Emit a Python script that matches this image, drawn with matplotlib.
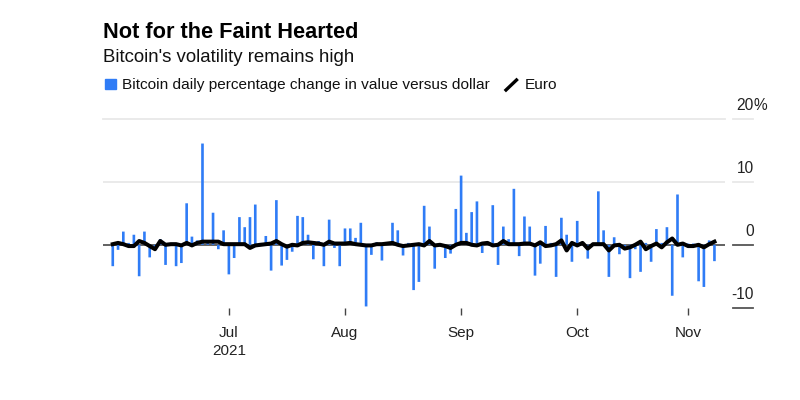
import numpy as np
import pandas as pd
import matplotlib
matplotlib.use('Agg')
import matplotlib.pyplot as plt
from matplotlib.patches import Rectangle
from matplotlib.lines import Line2D

plt.rcParams['font.family'] = ['Liberation Sans', 'DejaVu Sans']

# weekday observations, Jun 1 - Nov 8 2021
dates = pd.bdate_range('2021-06-01', '2021-11-08')

# Bitcoin daily % change vs dollar
bitcoin = [-3.4, -0.8, 2.1, 0.3, 1.6, -5.0, 2.1, -2.0, -0.3, 0.9,
           -3.2, 0.2, -3.4, -2.9, 6.6, 1.3, 0.7, 16.1, 0.7, 5.1,
           -0.7, 2.3, -4.7, -2.1, 4.4, 2.8, 4.4, 6.4, 0.3, 1.4,
           -4.1, 7.1, -3.3, -2.4, -1.1, 4.6, 4.4, 1.6, -2.3, 0.6,
           -3.4, 4.0, -0.5, -3.4, 2.6, 2.6, 1.1, 3.5, -9.8, -1.6,
           0.4, -2.5, 0.2, 3.5, 2.3, -1.7, 0.3, -7.2, -5.9, 6.2,
           2.9, -3.8, -0.3, -2.1, -1.4, 5.7, 11.0, 1.9, 5.2, 6.9,
           -1.3, 0.3, 6.3, -3.2, 2.9, 0.9, 8.9, -1.8, 4.5, 2.9,
           -4.9, -3.0, 3.0, 0.3, -5.1, 4.3, 1.6, -2.7, 3.8, 0.3,
           -2.2, 0.2, 8.5, 2.3, -5.1, 1.2, -1.5, -0.3, -5.3, -0.7,
           -4.3, 0.3, -2.7, 2.5, 0.3, 2.8, -8.1, 8.0, -2.0, 0.2,
           0.2, -5.8, -6.7, 0.7, -2.6]

# Euro daily % change vs dollar
euro = [0.1, 0.3, 0.1, -0.2, -0.2, 0.6, 0.3, -0.2, -0.7, 0.6,
        0.0, 0.1, 0.1, -0.1, 0.3, -0.1, 0.3, 0.5, 0.5, 0.5,
        0.5, 0.1, 0.1, 0.1, 0.1, 0.1, -0.5, -0.1, 0.0, 0.1,
        0.2, 0.6, 0.1, -0.3, 0.0, -0.1, 0.3, 0.4, 0.3, 0.2,
        0.0, 0.5, 0.2, 0.2, 0.2, 0.3, 0.1, 0.0, -0.1, -0.1,
        0.1, 0.1, 0.2, 0.3, 0.0, -0.2, -0.1, 0.0, 0.1, -0.1,
        0.6, -0.1, 0.0, -0.2, -0.5, 0.0, 0.3, 0.3, 0.0, -0.1,
        0.2, 0.3, -0.1, 0.0, 0.6, 0.1, 0.1, 0.1, 0.2, 0.2,
        -0.1, 0.4, -0.2, -0.1, 0.1, 0.7, -0.9, 0.3, -0.1, 0.3,
        -0.6, 0.1, 0.1, 0.1, -0.9, -0.1, 0.0, -0.6, -0.4, 0.0,
        0.5, -0.7, -0.2, 0.2, -0.4, 0.4, 1.0, 0.0, 0.2, -0.2,
        -0.2, 0.0, -0.4, 0.1, 0.5]

month_starts = ['2021-07-01', '2021-08-01', '2021-09-01', '2021-10-01', '2021-11-01']
month_labels = ['Jul\n2021', 'Aug', 'Sep', 'Oct', 'Nov']
y_ticks = [20, 10, 0, -10]

x = np.arange(len(dates))
tick_pos = [int(np.searchsorted(dates, pd.Timestamp(m))) for m in month_starts]

fig = plt.figure(figsize=(8, 4), dpi=100)
ax = fig.add_axes([103/800, 1 - 307.7/400, 622/800, (307.7 - 119)/400])

ax.axhline(10, color='#e8e8e8', lw=1.3, zorder=0)
ax.axhline(20, color='#e8e8e8', lw=1.3, zorder=0, clip_on=False)
ax.axhline(0, color='#555555', lw=1.3, zorder=1)

bars = ax.bar(x, bitcoin, width=0.5, color='#2f7cf6', linewidth=0, zorder=2)
for b in bars:
    b.set_snap(False)
ax.plot(x, euro, color='black', lw=2.9, zorder=3, solid_joinstyle='round')

ax.set_xlim(-1.85, 116)
ax.set_ylim(-10, 20)
for s in ax.spines.values():
    s.set_visible(False)
ax.set_yticks([])
ax.set_xticks(tick_pos, month_labels)
ax.tick_params(axis='x', length=5, width=1, color='#444444', pad=8,
               labelsize=11, labelcolor='#222222')
for lab in ax.get_xticklabels():
    lab.set_linespacing(1.4)

# right-hand value labels, Bloomberg style
ytrans = ax.get_yaxis_transform()
for v in y_ticks:
    col = '#555555' if v <= 0 else '#e8e8e8'
    ax.plot([1.0129, 1.045], [v, v], transform=ytrans, color=col, lw=1.3, clip_on=False)
    ax.annotate(str(v), xy=(1.0466, v), xycoords=ytrans, xytext=(0, 6.5),
                textcoords='offset points', ha='right', va='baseline',
                fontsize=11.2, color='#222222', annotation_clip=False)
ax.annotate('%', xy=(1.0466, 20), xycoords=ytrans, xytext=(0, 6.5),
            textcoords='offset points', ha='left', va='baseline',
            fontsize=11.2, color='#222222', annotation_clip=False)

# header
fig.text(103/800, 1 - 38.3/400, 'Not for the Faint Hearted', fontsize=15.7,
         fontweight='bold', color='black', va='baseline')
fig.text(103/800, 1 - 62.5/400, "Bitcoin's volatility remains high", fontsize=13.4,
         color='#111111', va='baseline')

# legend
fig.add_artist(Rectangle((105/800, 1 - 89.3/400), 10.7/800, 10.3/400,
                         transform=fig.transFigure, color='#2f7cf6'))
fig.text(121.5/800, 1 - 89.3/400, 'Bitcoin daily percentage change in value versus dollar',
         fontsize=11.1, color='#111111', va='baseline')
fig.add_artist(Line2D([506/800, 516.5/800], [1 - 90/400, 1 - 80/400],
                      transform=fig.transFigure, color='black', lw=2.4))
fig.text(525/800, 1 - 89.3/400, 'Euro', fontsize=11.1, color='#111111', va='baseline')

fig.savefig('out.png', dpi=100)
